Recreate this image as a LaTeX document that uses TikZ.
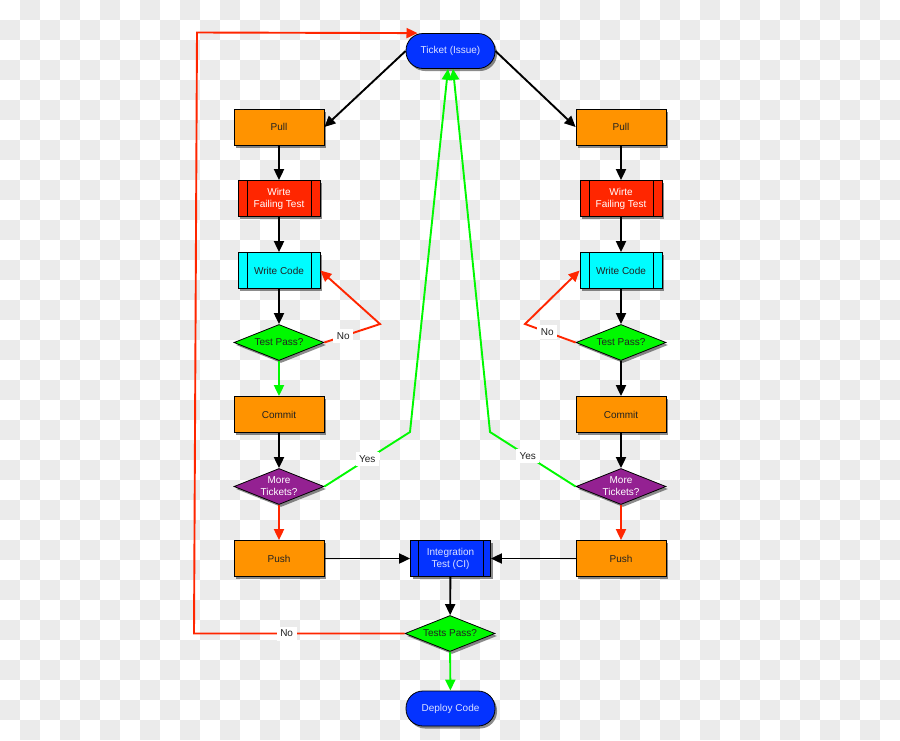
\documentclass[tikz,border=0pt]{standalone}
\usepackage{fontspec}
\setmainfont{Liberation Sans}
\usetikzlibrary{arrows.meta,shapes.geometric,shadows}
\definecolor{chk}{HTML}{EBEBEB}
\definecolor{cblue}{HTML}{0433FF}
\definecolor{corange}{HTML}{FF9300}
\definecolor{cred}{HTML}{FF2600}
\definecolor{ccyan}{HTML}{00FDFF}
\definecolor{cgreen}{HTML}{00F900}
\definecolor{cpurple}{HTML}{942192}
\definecolor{ltext}{HTML}{DDE3FF}
\definecolor{dtext}{HTML}{222222}
\tikzset{
  shd/.style={drop shadow={shadow xshift=2pt,shadow yshift=-2.5pt,fill=black,opacity=0.45}},
  box/.style={draw=black,line width=0.8pt,minimum width=90pt,minimum height=36pt,inner sep=0pt,
    align=center,font=\fontsize{10}{12}\selectfont,text=dtext,shd},
  orangebox/.style={box,fill=corange},
  proc/.style={box,minimum width=82pt,minimum height=36pt,
    path picture={
      \draw[line width=0.8pt] ([xshift=#1]path picture bounding box.north west) -- ([xshift=#1]path picture bounding box.south west);
      \draw[line width=0.8pt] ([xshift=-#1]path picture bounding box.north east) -- ([xshift=-#1]path picture bounding box.south east);}},
  proc/.default=9pt,
  term/.style={box,rounded corners=17pt,minimum width=89pt,minimum height=35pt,fill=cblue,text=ltext},
  dec/.style={diamond,draw=black,line width=0.8pt,minimum width=90pt,minimum height=36pt,inner sep=0pt,shd},
  dectext/.style={align=center,font=\fontsize{10}{12}\selectfont,text=dtext,inner sep=0pt},
  conn/.style={line width=1.9pt,-{Triangle[length=11pt,width=10pt]}},
  lab/.style={fill=white,inner sep=3.5pt,font=\fontsize{10}{12}\selectfont,text=dtext},
}
\begin{document}
\begin{tikzpicture}[x=1pt,y=-1pt]
\useasboundingbox (0,0) rectangle (900,740);
% checkerboard background
\fill[white] (0,0) rectangle (900,740);
\foreach \j in {0,...,36}{
  \pgfmathtruncatemacro\off{mod(\j,2)}
  \foreach \i in {0,...,22}{
    \fill[chk] ({(2*\i+1-\off)*20},{\j*20}) rectangle ++(20,20);
  }
}
% nodes
\node[term] (ticket) at (450.5,51) {Ticket (Issue)};
\node[orangebox] (pullL) at (279,127) {Pull};
\node[orangebox] (pullR) at (621,127) {Pull};
\node[proc,fill=cred,text=white] (wftL) at (279,198.5) {Wirte\\Failing Test};
\node[proc,fill=cred,text=white] (wftR) at (621,198.5) {Wirte\\Failing Test};
\node[proc,fill=ccyan] (wcL) at (279,270.5) {Write Code};
\node[proc,fill=ccyan] (wcR) at (621,270.5) {Write Code};
\node[dec,fill=cgreen,label={[dectext]center:Test Pass?}] (tpL) at (279,342.5) {};
\node[dec,fill=cgreen,label={[dectext]center:Test Pass?}] (tpR) at (621,342.5) {};
\node[orangebox] (comL) at (279,414.5) {Commit};
\node[orangebox] (comR) at (621,414.5) {Commit};
\node[dec,fill=cpurple,label={[dectext,text=white]center:{More\\Tickets?}}] (mtL) at (279,486.5) {};
\node[dec,fill=cpurple,label={[dectext,text=white]center:{More\\Tickets?}}] (mtR) at (621,486.5) {};
\node[orangebox] (pushL) at (279,558.5) {Push};
\node[orangebox] (pushR) at (621,558.5) {Push};
\node[proc=7.5pt,fill=cblue,text=ltext,minimum width=80pt] (ci) at (450.5,558.5) {Integration\\Test (CI)};
\node[dec,fill=cgreen,label={[dectext]center:Tests Pass?}] (tsp) at (450,633.5) {};
\node[term] (deploy) at (450.5,708.5) {Deploy Code};
% coordinates for bends
\coordinate (nL) at (380,324);
\coordinate (nR) at (525,324);
\coordinate (yL) at (410,432);
\coordinate (yR) at (490,432);
\coordinate (bl) at (194,633.5);
\coordinate (tl) at (197,32.5);
% connectors
\draw[conn] (ticket.west) -- (pullL.east);
\draw[conn] (ticket.east) -- (pullR.west);
\draw[conn] (pullL) -- (wftL);
\draw[conn] (pullR) -- (wftR);
\draw[conn] (wftL) -- (wcL);
\draw[conn] (wftR) -- (wcR);
\draw[conn] (wcL) -- (tpL);
\draw[conn] (wcR) -- (tpR);
\draw[conn,cgreen] (tpL) -- (comL);
\draw[conn] (tpR) -- (comR);
\draw[conn] (comL) -- (mtL);
\draw[conn] (comR) -- (mtR);
\draw[conn,cred] (mtL) -- (pushL);
\draw[conn,cred] (mtR) -- (pushR);
\draw[conn] (pushL) -- (ci);
\draw[conn] (pushR) -- (ci);
\draw[conn] (ci) -- (tsp);
\draw[conn,cgreen] (tsp) -- (deploy);
\draw[conn,cred] (tpL.east) -- node[lab,pos=0.34] (noL) {No} (nL) -- (wcL.east);
\draw[conn,cred] (tpR.west) -- node[lab,pos=0.56] (noR) {No} (nR) -- (wcR.west);
\draw[conn,cgreen] (mtL.east) -- node[lab,pos=0.5] (yesL) {Yes} (yL) -- ([xshift=-2.5pt]ticket.south);
\draw[conn,cgreen] (mtR.west) -- node[lab,pos=0.56] (yesR) {Yes} (yR) -- ([xshift=2.5pt]ticket.south);
\draw[conn,cred] (tsp.west) -- node[lab,pos=0.56] (noB) {No} (bl) -- (tl) -- ([xshift=-33pt]ticket.north);
\end{tikzpicture}
\end{document}
